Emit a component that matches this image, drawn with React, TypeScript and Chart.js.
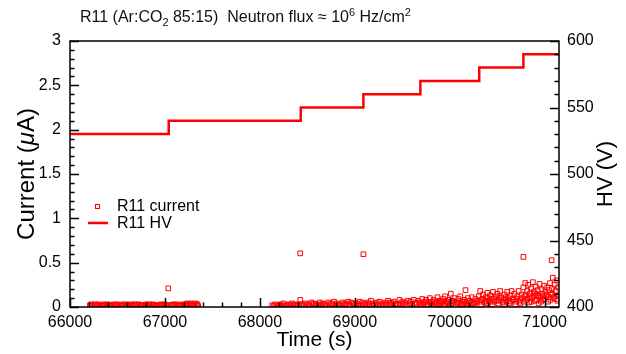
import React, { useEffect, useRef } from "react";
import { Chart, registerables } from "chart.js";

Chart.register(...registerables);

// ---- data ----
const xTicks = [66000, 67000, 68000, 69000, 70000, 71000];
const currentTicks = [0, 0.5, 1, 1.5, 2, 2.5, 3];
const hvTicks = [400, 450, 500, 550, 600];

const hvStepTimes = [66000, 67040, 68430, 69090, 69690, 70310, 70775, 71150];
const hvValues = [530, 540, 550, 560, 570, 580, 590, 590];

const currentRunA: [number, number][] = [
  [66210, 0.02], [66235, 0.01], [66260, 0.03], [66285, 0.02], [66310, 0.01], [66335, 0.02],
  [66360, 0.03], [66385, 0.02], [66410, 0.01], [66435, 0.02], [66460, 0.03], [66485, 0.02],
  [66510, 0.02], [66535, 0.01], [66560, 0.03], [66585, 0.02], [66610, 0.02], [66635, 0.01],
  [66660, 0.02], [66685, 0.03], [66710, 0.02], [66735, 0.01], [66760, 0.02], [66785, 0.02],
  [66810, 0.01], [66835, 0.03], [66860, 0.02], [66885, 0.01], [66910, 0.02], [66935, 0.02],
  [66960, 0.03], [66985, 0.02], [67010, 0.01], [67060, 0.02], [67085, 0.03], [67110, 0.02],
  [67135, 0.01], [67160, 0.02], [67185, 0.03], [67210, 0.02], [67235, 0.04], [67260, 0.03],
  [67285, 0.02], [67310, 0.03], [67335, 0.02], [67350, 0.01],
  [66222, 0.03], [66248, 0.02], [66272, 0.01], [66298, 0.03], [66322, 0.02], [66348, 0.01],
  [66372, 0.02], [66398, 0.03], [66422, 0.02], [66448, 0.01], [66472, 0.02], [66498, 0.03],
  [66522, 0.02], [66548, 0.02], [66572, 0.01], [66598, 0.03], [66622, 0.02], [66648, 0.03],
  [66672, 0.01], [66698, 0.02], [66722, 0.03], [66748, 0.02], [66772, 0.01], [66798, 0.03],
  [66822, 0.02], [66848, 0.01], [66872, 0.03], [66898, 0.02], [66922, 0.01], [66948, 0.02],
  [66972, 0.01], [66998, 0.03], [67022, 0.02], [67048, 0.01], [67072, 0.02], [67098, 0.01],
  [67122, 0.03], [67148, 0.02], [67172, 0.01], [67198, 0.02], [67222, 0.03], [67248, 0.02],
  [67272, 0.04], [67298, 0.02], [67322, 0.04], [67342, 0.03],
];

const currentRunB: [number, number][] = [
  [68130, 0.02], [68160, 0.03], [68190, 0.02], [68220, 0.03], [68250, 0.04], [68280, 0.02],
  [68310, 0.03], [68340, 0.04], [68370, 0.03], [68400, 0.02], [68425, 0.08], [68450, 0.03],
  [68480, 0.04], [68510, 0.03], [68540, 0.05], [68570, 0.04], [68600, 0.03], [68630, 0.05],
  [68660, 0.04], [68690, 0.03], [68720, 0.05], [68750, 0.04], [68780, 0.06], [68810, 0.04],
  [68840, 0.03], [68870, 0.05], [68900, 0.04], [68930, 0.06], [68960, 0.05], [68990, 0.03],
  [69020, 0.04], [69050, 0.06], [69080, 0.05], [69110, 0.04], [69140, 0.05], [69170, 0.07],
  [69200, 0.04], [69230, 0.05], [69260, 0.06], [69290, 0.04], [69320, 0.05], [69350, 0.07],
  [69380, 0.05], [69410, 0.06], [69440, 0.04], [69470, 0.08], [69500, 0.06], [69530, 0.05],
  [69560, 0.07], [69590, 0.06], [69620, 0.08], [69650, 0.05],
  [68175, 0.01], [68265, 0.01], [68355, 0.02], [68465, 0.01], [68585, 0.02], [68705, 0.01],
  [68825, 0.02], [68945, 0.02], [69065, 0.02], [69185, 0.02], [69305, 0.02], [69425, 0.03],
  [69545, 0.02],
  [68145, 0.01], [68205, 0.02], [68235, 0.01], [68295, 0.02], [68325, 0.01], [68385, 0.02],
  [68415, 0.03], [68437, 0.02], [68495, 0.02], [68525, 0.01], [68555, 0.03], [68615, 0.02],
  [68645, 0.02], [68675, 0.03], [68735, 0.02], [68765, 0.03], [68795, 0.02], [68855, 0.02],
  [68885, 0.03], [68915, 0.03], [68975, 0.04], [69005, 0.02], [69035, 0.03], [69095, 0.03],
  [69125, 0.02], [69155, 0.03], [69215, 0.03], [69245, 0.02], [69275, 0.03], [69335, 0.03],
  [69365, 0.04], [69395, 0.03], [69455, 0.03], [69485, 0.04], [69515, 0.03], [69575, 0.04],
  [69605, 0.03], [69635, 0.04],
];

const currentRunC: [number, number][] = [
  [69670, 0.07], [69690, 0.04], [69710, 0.09], [69730, 0.05], [69750, 0.08], [69770, 0.03],
  [69790, 0.10], [69810, 0.06], [69830, 0.08], [69850, 0.04], [69870, 0.11], [69890, 0.07],
  [69910, 0.05], [69930, 0.09], [69950, 0.12], [69970, 0.06], [69990, 0.08], [70010, 0.15],
  [70030, 0.07], [70050, 0.10], [70070, 0.05], [70090, 0.09], [70110, 0.12], [70130, 0.06],
  [70150, 0.08], [70170, 0.04], [70190, 0.10], [70210, 0.07], [70230, 0.11], [70250, 0.05],
  [70270, 0.09], [70290, 0.07],
  [69700, 0.02], [69760, 0.03], [69820, 0.02], [69880, 0.03], [69940, 0.02], [70000, 0.03],
  [70060, 0.02], [70120, 0.03], [70180, 0.02], [70240, 0.03],
  [69680, 0.05], [69720, 0.03], [69740, 0.06], [69780, 0.05], [69800, 0.04], [69840, 0.06],
  [69860, 0.05], [69900, 0.04], [69920, 0.06], [69960, 0.04], [69980, 0.05], [70020, 0.04],
  [70040, 0.06], [70080, 0.04], [70100, 0.05], [70140, 0.04], [70160, 0.06], [70200, 0.04],
  [70220, 0.05], [70260, 0.04], [70280, 0.05],
];

const currentRunD: [number, number][] = [
  [70305, 0.12], [70320, 0.18], [70335, 0.08], [70350, 0.14], [70365, 0.05], [70380, 0.11],
  [70395, 0.16], [70410, 0.07], [70425, 0.13], [70440, 0.09], [70455, 0.17], [70470, 0.06],
  [70485, 0.12], [70500, 0.15], [70515, 0.08], [70530, 0.18], [70545, 0.10], [70560, 0.05],
  [70575, 0.14], [70590, 0.11], [70605, 0.17], [70620, 0.07], [70635, 0.13], [70650, 0.18],
  [70665, 0.09], [70680, 0.15], [70695, 0.06], [70710, 0.12], [70725, 0.18], [70740, 0.08],
  [70755, 0.14],
  [70330, 0.03], [70390, 0.04], [70450, 0.03], [70510, 0.04], [70570, 0.03], [70630, 0.04],
  [70690, 0.03], [70745, 0.04],
  [70312, 0.06], [70342, 0.09], [70372, 0.07], [70402, 0.10], [70432, 0.06], [70462, 0.09],
  [70492, 0.07], [70522, 0.11], [70552, 0.06], [70582, 0.08], [70612, 0.10], [70642, 0.06],
  [70672, 0.08], [70702, 0.09], [70732, 0.06], [70762, 0.10],
];

const currentRunE: [number, number][] = [
  [70775, 0.22], [70785, 0.12], [70795, 0.27], [70805, 0.08], [70815, 0.18], [70825, 0.25],
  [70835, 0.05], [70845, 0.15], [70855, 0.21], [70865, 0.10], [70875, 0.28], [70885, 0.17],
  [70895, 0.07], [70905, 0.23], [70915, 0.13], [70925, 0.19], [70935, 0.04], [70945, 0.26],
  [70955, 0.11], [70965, 0.20], [70975, 0.15], [70985, 0.08], [70995, 0.24], [71005, 0.17],
  [71015, 0.12], [71025, 0.22], [71035, 0.06], [71045, 0.19], [71055, 0.27], [71065, 0.14],
  [71075, 0.21], [71085, 0.33], [71095, 0.10], [71105, 0.25], [71115, 0.18], [71125, 0.30],
  [71135, 0.07], [71140, 0.22],
  [70780, 0.06], [70800, 0.14], [70820, 0.09], [70840, 0.11], [70860, 0.06], [70880, 0.13],
  [70900, 0.15], [70920, 0.08], [70940, 0.12], [70960, 0.06], [70980, 0.13], [71000, 0.09],
  [71020, 0.14], [71040, 0.11], [71060, 0.08], [71080, 0.15], [71100, 0.12], [71120, 0.09],
  [71140, 0.13],
];

const currentOutliers: [number, number][] = [
  [67035, 0.21], [68425, 0.605], [69090, 0.595], [70165, 0.19], [70775, 0.565], [71072, 0.527],
];

// ---- styling ----
const RED = "#ff0000";
const FONT = "'Liberation Sans', Arial, Helvetica, sans-serif";
const X_MIN = 66000;
const X_MAX = 71150;

const toXY = (arr: [number, number][]) => arr.map(([x, y]) => ({ x, y }));

function drawRuns(ctx: CanvasRenderingContext2D, parts: { t: string; f: string }[], cx: number, cy: number) {
  // draw a horizontal run of text pieces centred at (cx, cy) after rotating -90deg
  ctx.save();
  ctx.translate(cx, cy);
  ctx.rotate(-Math.PI / 2);
  let total = 0;
  for (const p of parts) {
    ctx.font = p.f;
    total += ctx.measureText(p.t).width;
  }
  let x = -total / 2;
  ctx.textAlign = "left";
  ctx.textBaseline = "middle";
  ctx.fillStyle = "#000";
  for (const p of parts) {
    ctx.font = p.f;
    ctx.fillText(p.t, x, 0);
    x += ctx.measureText(p.t).width;
  }
  ctx.restore();
}

const framePlugin = {
  id: "frameTicks",
  afterDatasetsDraw(chart: any) {
    const { ctx, chartArea: a, scales } = chart;
    const sx = scales.x, sy = scales.y, sy1 = scales.y1;
    ctx.save();
    ctx.strokeStyle = "#000";
    ctx.lineWidth = 1.5;
    ctx.beginPath();
    for (let v = X_MIN; v <= X_MAX; v += 200) {
      const px = Math.round(sx.getPixelForValue(v)) + 0.5;
      const len = v % 1000 === 0 ? 9 : 4.5;
      ctx.moveTo(px, a.bottom);
      ctx.lineTo(px, a.bottom - len);
    }
    for (let i = 0; i <= 30; i++) {
      const v = i / 10;
      const py = Math.round(sy.getPixelForValue(v)) + 0.5;
      const len = i % 5 === 0 ? 9 : 4.5;
      ctx.moveTo(a.left, py);
      ctx.lineTo(a.left + len, py);
    }
    for (let v = 400; v <= 600; v += 10) {
      const py = Math.round(sy1.getPixelForValue(v)) + 0.5;
      const len = v % 50 === 0 ? 9 : 4.5;
      ctx.moveTo(a.right, py);
      ctx.lineTo(a.right - len, py);
    }
    ctx.stroke();
    ctx.strokeRect(a.left, a.top, a.right - a.left, a.bottom - a.top);
    ctx.restore();
  },
  afterDraw(chart: any) {
    const { ctx, chartArea: a } = chart;
    ctx.save();
    // title with sub/superscripts
    const parts = [
      { t: "R11 (Ar:CO", s: 0 },
      { t: "2", s: -1 },
      { t: " 85:15)  Neutron flux \u2248 10", s: 0 },
      { t: "6", s: 1 },
      { t: " Hz/cm", s: 0 },
      { t: "2", s: 1 },
    ];
    let x = 80;
    const base = 22;
    ctx.fillStyle = "#111";
    ctx.textBaseline = "alphabetic";
    ctx.textAlign = "left";
    for (const p of parts) {
      ctx.font = p.s === 0 ? `16px ${FONT}` : `11px ${FONT}`;
      const y = p.s === 0 ? base : p.s > 0 ? base - 6 : base + 4;
      ctx.fillText(p.t, x, y);
      x += ctx.measureText(p.t).width;
    }
    // vertical axis titles
    const cy = (a.top + a.bottom) / 2;
    drawRuns(ctx, [
      { t: "Current (", f: `24px ${FONT}` },
      { t: "\u03bc", f: `italic 24px ${FONT}` },
      { t: "A)", f: `24px ${FONT}` },
    ], 27, cy);
    drawRuns(ctx, [{ t: "HV (V)", f: `22px ${FONT}` }], 606, cy);
    // legend
    ctx.font = `16px ${FONT}`;
    ctx.textBaseline = "middle";
    ctx.fillStyle = "#000";
    ctx.strokeStyle = RED;
    ctx.lineWidth = 1;
    ctx.strokeRect(95.5, 204.5, 4, 4);
    ctx.fillText("R11 current", 117, 207);
    ctx.lineWidth = 2.5;
    ctx.beginPath();
    ctx.moveTo(88, 223);
    ctx.lineTo(108, 223);
    ctx.stroke();
    ctx.fillText("R11 HV", 117, 223.5);
    ctx.restore();
  },
};

export default function App() {
  const ref = useRef<HTMLCanvasElement | null>(null);
  useEffect(() => {
    if (!ref.current) return;
    const currentData = [
      ...toXY(currentRunA),
      ...toXY(currentRunB),
      ...toXY(currentRunC),
      ...toXY(currentRunD),
      ...toXY(currentRunE),
      ...toXY(currentOutliers),
    ];
    const hvData = hvStepTimes.map((t, i) => ({ x: t, y: hvValues[i] }));
    const chart = new Chart(ref.current, {
      type: "scatter",
      data: {
        datasets: [
          {
            label: "R11 current",
            data: currentData,
            yAxisID: "y",
            pointStyle: "rect",
            pointRadius: 3.3,
            borderColor: RED,
            borderWidth: 1,
            backgroundColor: "rgba(255,255,255,0)",
            showLine: false,
          } as any,
          {
            type: "line",
            label: "R11 HV",
            data: hvData,
            yAxisID: "y1",
            stepped: true,
            borderColor: RED,
            borderWidth: 2.5,
            pointRadius: 0,
            fill: false,
            showLine: true,
          } as any,
        ],
      },
      options: {
        animation: false,
        responsive: false,
        devicePixelRatio: 1,
        layout: { padding: { top: 41, left: 0, right: 0, bottom: 0 } },
        plugins: { legend: { display: false }, tooltip: { enabled: false }, title: { display: false } },
        scales: {
          x: {
            type: "linear",
            position: "bottom",
            min: X_MIN,
            max: X_MAX,
            grid: { display: false, drawTicks: false },
            border: { display: false },
            afterBuildTicks: (s: any) => { s.ticks = xTicks.map((v) => ({ value: v })); },
            afterFit: (s: any) => { s.height = 47; },
            ticks: {
              color: "#000",
              padding: 6,
              maxRotation: 0,
              autoSkip: false,
              font: { family: FONT, size: 16 },
              callback: (v: any) => String(v),
            },
            title: {
              display: true,
              text: "Time (s)",
              color: "#000",
              font: { family: FONT, size: 21 },
              padding: { top: 0, bottom: 1 },
            },
          },
          y: {
            type: "linear",
            position: "left",
            min: 0,
            max: 3,
            grid: { display: false, drawTicks: false },
            border: { display: false },
            afterBuildTicks: (s: any) => { s.ticks = currentTicks.map((v) => ({ value: v })); },
            afterFit: (s: any) => { s.width = 70; },
            ticks: {
              color: "#000",
              padding: 9,
              font: { family: FONT, size: 16 },
              callback: (v: any) => String(v),
            },
            title: { display: false },
          },
          y1: {
            type: "linear",
            position: "right",
            min: 400,
            max: 600,
            grid: { display: false, drawTicks: false },
            border: { display: false },
            afterBuildTicks: (s: any) => { s.ticks = hvTicks.map((v) => ({ value: v })); },
            afterFit: (s: any) => { s.width = 67; },
            ticks: {
              color: "#000",
              padding: 8,
              font: { family: FONT, size: 16 },
              callback: (v: any) => String(v),
            },
            title: { display: false },
          },
        },
      },
      plugins: [framePlugin],
    });
    return () => chart.destroy();
  }, []);
  return (
    <div style={{ position: "fixed", left: 0, top: 0, width: 626, height: 354, background: "#fff" }}>
      <canvas ref={ref} width={626} height={354} style={{ display: "block", width: 626, height: 354 }} />
    </div>
  );
}
